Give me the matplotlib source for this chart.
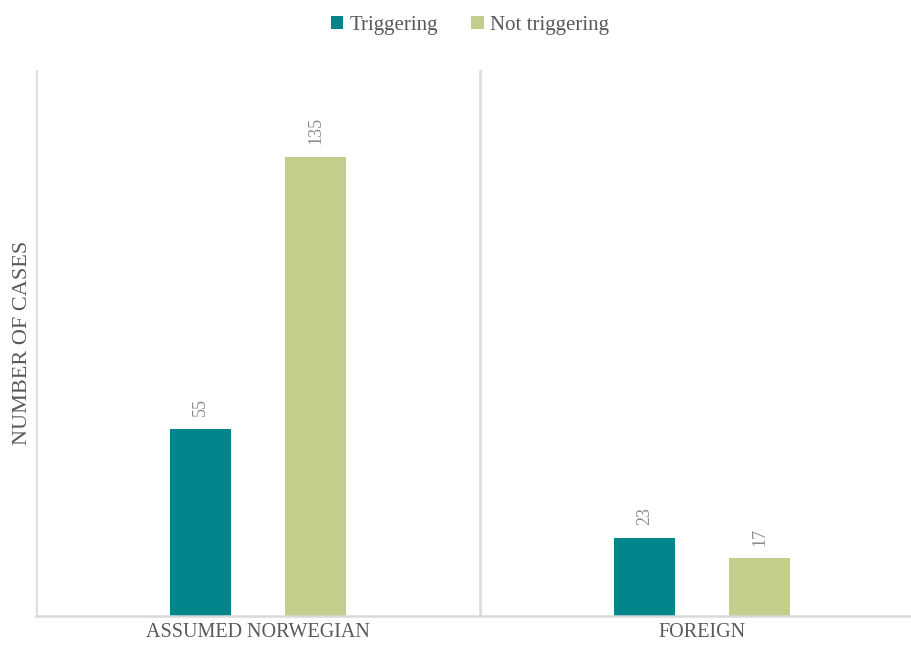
import numpy as np
from matplotlib import pyplot as plt

categories = ["ASSUMED NORWEGIAN", "FOREIGN"]
series     = ["Triggering", "Not triggering"]
triggering     = [55, 23]
not_triggering = [135, 17]

teal  = "#02868B"
olive = "#C4CE8C"
grey  = "#595959"
line  = "#D9D9D9"

plt.rcParams['font.family'] = ['Liberation Serif', 'DejaVu Serif']

fig = plt.figure(figsize=(9.12, 6.46), dpi=100)
ax  = fig.add_axes([36/912, 30/646, 888/912, 546/646])

x = np.arange(len(categories))
w = 0.137
off = 0.13

b1 = ax.bar(x - off, triggering,     w, color=teal,  label=series[0])
b2 = ax.bar(x + off, not_triggering, w, color=olive, label=series[1])

for bars in (b1, b2):
	for r in bars:
		ax.annotate("%d" % r.get_height(),
		            (r.get_x() + r.get_width()/2, r.get_height()),
		            xytext=(0, 9), textcoords="offset points",
		            rotation=90, ha="center", va="bottom",
		            fontsize=13, color="#8C8C8C")

ax.set_xlim(-0.5, 1.5)
ax.set_ylim(0, 160.5)
ax.set_yticks([])
ax.set_xticks(x)
ax.set_xticklabels(categories, fontsize=14.5, color=grey)
ax.tick_params(axis='x', length=0, pad=5)

# group separators
for xv in (-0.5, 0.5):
	ax.axvline(xv, color=line, linewidth=1.8, zorder=0)

for s in ('top', 'right', 'left'):
	ax.spines[s].set_visible(False)
ax.spines['bottom'].set_color(line)
ax.spines['bottom'].set_linewidth(1.8)

ax.set_ylabel("NUMBER OF CASES", fontsize=16, color=grey, labelpad=3)

fig.legend(handles=[b1, b2], labels=series, loc='upper center',
           bbox_to_anchor=(0.515, 1.005), ncol=2, frameon=False,
           fontsize=15, labelcolor=grey, handlelength=0.6, handleheight=0.6,
           handletextpad=0.3, columnspacing=1.6)

plt.savefig("out.png", dpi=100)
